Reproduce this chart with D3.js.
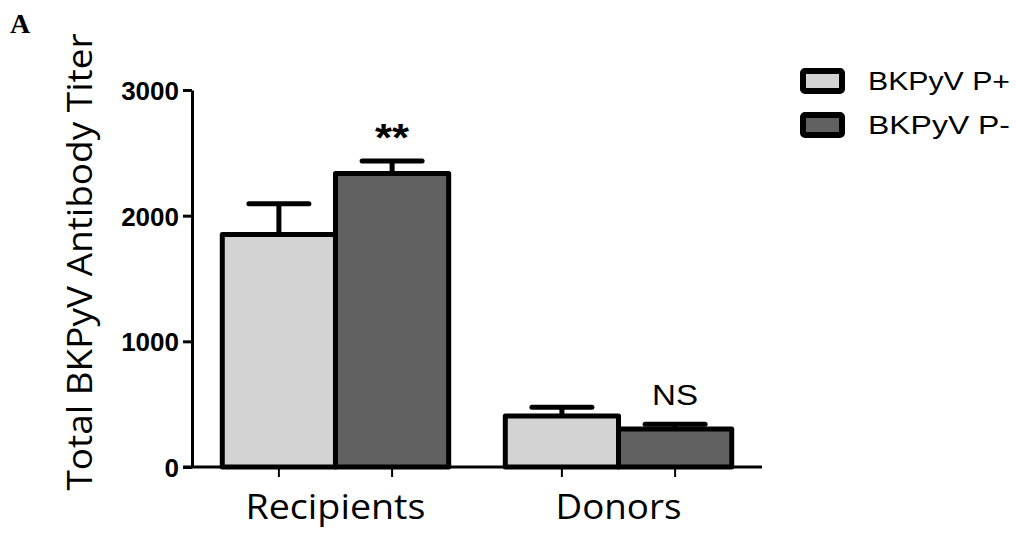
<!DOCTYPE html>
<html><head><meta charset="utf-8">
<script src="https://cdn.jsdelivr.net/npm/d3@7"></script>
<style>body{margin:0;background:#fff}svg{display:block}</style>
</head><body>
<svg id="c" width="1016" height="535"></svg>
<script>
const categories = ["Recipients", "Donors"];
const seriesNames = ["BKPyV P+", "BKPyV P-"];
const meanPplus = [1850, 405];
const semPplus = [245, 70];
const meanPminus = [2335, 302];
const semPminus = [100, 38];
const annotations = ["**", "NS"];
const yTicks = [0, 1000, 2000, 3000];
const colors = ["#d3d3d3", "#616161"];

const svg = d3.select("#c");
const y = d3.scaleLinear().domain([0, 3000]).range([467, 90]);
const x0 = d3.scaleBand().domain(categories).range([192, 762]).paddingInner(0.2).paddingOuter(0.107);
const x1 = d3.scaleBand().domain(seriesNames).range([0, x0.bandwidth()]);

const rows = categories.map((c, i) => ({cat: c, vals: [
  {s: seriesNames[0], v: meanPplus[i], e: semPplus[i]},
  {s: seriesNames[1], v: meanPminus[i], e: semPminus[i]}]}));

const g = svg.append("g");
rows.forEach(r => {
  r.vals.forEach((d, j) => {
    const cx = x0(r.cat) + x1(d.s) + x1.bandwidth() / 2;
    g.append("line").attr("x1", cx).attr("x2", cx).attr("y1", y(d.v)).attr("y2", y(d.v + d.e))
      .attr("stroke", "#000").attr("stroke-width", 5);
    g.append("line").attr("x1", cx - 30).attr("x2", cx + 30).attr("y1", y(d.v + d.e)).attr("y2", y(d.v + d.e))
      .attr("stroke", "#000").attr("stroke-width", 5).attr("stroke-linecap", "round");
  });
});
rows.forEach(r => {
  r.vals.forEach((d, j) => {
    g.append("rect").attr("x", x0(r.cat) + x1(d.s)).attr("width", x1.bandwidth())
      .attr("y", y(d.v)).attr("height", y(0) - y(d.v))
      .attr("fill", colors[j]).attr("stroke", "#000").attr("stroke-width", 5).attr("stroke-linejoin", "round");
  });
});

svg.append("line").attr("x1", 183).attr("x2", 762).attr("y1", y(0)).attr("y2", y(0))
  .attr("stroke", "#000").attr("stroke-width", 3);
rows.forEach(r => r.vals.forEach(d => {
  const cx = x0(r.cat) + x1(d.s) + x1.bandwidth() / 2;
  svg.append("line").attr("x1", cx).attr("x2", cx).attr("y1", y(0)).attr("y2", y(0) + 10)
    .attr("stroke", "#000").attr("stroke-width", 2);
}));

const ya = svg.append("g").attr("transform", "translate(192,0)")
  .call(d3.axisLeft(y).tickValues(yTicks).tickSize(9).tickSizeOuter(0).tickPadding(4).tickFormat(d3.format("d")));
ya.select(".domain").attr("stroke", "#000").attr("stroke-width", 3);
ya.selectAll(".tick line").attr("stroke", "#000").attr("stroke-width", 3);
ya.selectAll(".tick text").attr("font-family", "Liberation Sans, Arial, sans-serif")
  .attr("font-weight", "bold").attr("font-size", 26).attr("fill", "#000").attr("dy", "0.36em");

const labelLen = {"Recipients": 180, "Donors": 126};
categories.forEach(c => {
  svg.append("text").attr("x", x0(c) + x0.bandwidth() / 2).attr("y", 519)
    .attr("text-anchor", "middle").attr("font-family", "Open Sans, sans-serif").attr("font-size", 34)
    .attr("textLength", labelLen[c]).attr("lengthAdjust", "spacingAndGlyphs").text(c);
});

svg.append("text").attr("transform", "translate(92,262) rotate(-90)").attr("text-anchor", "middle")
  .attr("font-family", "Open Sans, sans-serif").attr("font-size", 34)
  .attr("textLength", 457).attr("lengthAdjust", "spacingAndGlyphs")
  .text("Total BKPyV Antibody Titer");

rows.forEach((r, i) => {
  const d = r.vals[1];
  const cx = x0(r.cat) + x1(d.s) + x1.bandwidth() / 2;
  const top = y(d.v + d.e);
  if (annotations[i] === "**") {
    svg.append("text").attr("x", cx).attr("y", top - 10).attr("text-anchor", "middle")
      .attr("font-family", "Liberation Sans, Arial, sans-serif").attr("font-weight", "bold").attr("font-size", 38)
      .attr("textLength", 34).attr("lengthAdjust", "spacingAndGlyphs")
      .text(annotations[i]);
  } else {
    svg.append("text").attr("x", cx).attr("y", top - 19).attr("text-anchor", "middle")
      .attr("font-family", "Liberation Sans, Arial, sans-serif").attr("font-size", 29)
      .attr("textLength", 46).attr("lengthAdjust", "spacingAndGlyphs")
      .text(annotations[i]);
  }
});

seriesNames.forEach((s, i) => {
  const yy = 68 + i * 44;
  svg.append("rect").attr("x", 803).attr("y", yy + 3).attr("width", 39).attr("height", 20)
    .attr("rx", 2).attr("fill", colors[i]).attr("stroke", "#000").attr("stroke-width", 6);
  svg.append("text").attr("x", 868).attr("y", yy + 22).attr("font-family", "Liberation Sans, Arial, sans-serif")
    .attr("font-size", 26).attr("textLength", 142).attr("lengthAdjust", "spacingAndGlyphs").text(s);
});

svg.append("text").attr("x", 10).attr("y", 33).attr("font-family", "Liberation Serif, Times New Roman, serif")
  .attr("font-weight", "bold").attr("font-size", 28).text("A");
</script>
</body></html>
